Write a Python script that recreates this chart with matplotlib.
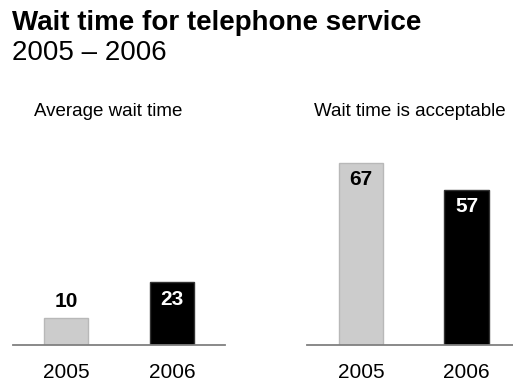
import matplotlib
matplotlib.use("Agg")
import matplotlib.pyplot as plt

years = ["2005", "2006"]
avg_wait = [10, 23]
acceptable = [67, 57]
bar_colors = ["#cccccc", "#000000"]
edge_colors = ["#b8b8b8", "#333333"]

plt.rcParams["font.family"] = ["Liberation Sans", "DejaVu Sans"]

W, H = 513, 381
fig = plt.figure(figsize=(W / 100, H / 100), dpi=100)

fig.text(12 / W, 1 - 23 / H, "Wait time for telephone service",
         fontsize=20, fontweight="bold", va="center", ha="left")
fig.text(12 / W, 1 - 53 / H, "2005 \u2013 2006",
         fontsize=20, va="center", ha="left")


def panel(left, right, xlim, values, title, title_x, label_inside):
    base = 345
    top = base - 70 * 2.72
    ax = fig.add_axes([left / W, 1 - base / H, (right - left) / W, (base - top) / H])
    x = range(len(values))
    ax.bar(x, values, width=0.42, color=bar_colors, edgecolor=edge_colors, linewidth=1)
    ax.set_ylim(0, 70)
    ax.set_xlim(*xlim)
    for s in ["top", "left", "right"]:
        ax.spines[s].set_visible(False)
    ax.spines["bottom"].set_color("#808080")
    ax.spines["bottom"].set_linewidth(1.3)
    ax.set_yticks([])
    ax.set_xticks(list(x))
    ax.set_xticklabels(years, fontsize=15)
    ax.tick_params(axis="x", length=0, pad=13)
    for i, v in enumerate(values):
        # labels sit inside tall bars, above short ones
        if label_inside[i]:
            off = -12
            txt_color = "white" if bar_colors[i] == "#000000" else "black"
        else:
            off = 12
            txt_color = "black"
        ax.annotate(str(v), (i, v), xytext=(0, off), textcoords="offset points",
                    ha="center", va="center", fontsize=15, fontweight="bold",
                    color=txt_color)
    fig.text(title_x / W, 1 - 111 / H, title, fontsize=13.5, ha="center",
             va="center")
    return ax


panel(13, 225, (-0.5, 1.5), avg_wait, "Average wait time", 108, [False, True])
panel(307, 513, (-0.51, 1.44), acceptable, "Wait time is acceptable", 410, [True, True])

fig.savefig("out.png", dpi=100)
